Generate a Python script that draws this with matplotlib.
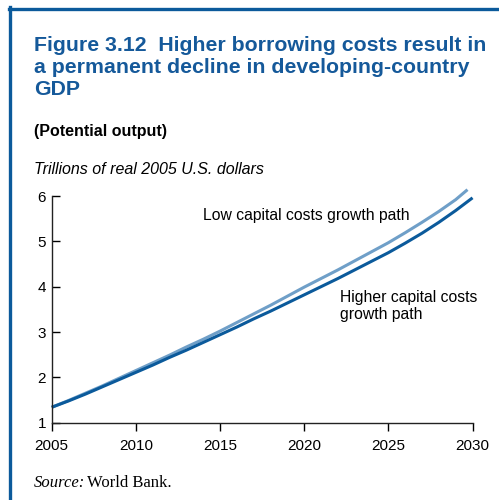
import matplotlib.pyplot as plt
from matplotlib.lines import Line2D

plt.rcParams['font.family'] = ['Liberation Sans', 'DejaVu Sans']

years_low = [2005, 2006, 2007, 2008, 2009, 2010, 2011, 2012, 2013, 2014, 2015,
             2016, 2017, 2018, 2019, 2020, 2021, 2022, 2023, 2024, 2025,
             2026, 2027, 2028, 2029, 2029.7]
low_cost = [1.34, 1.49, 1.65, 1.81, 1.98, 2.15, 2.32, 2.49, 2.67, 2.84, 3.02,
            3.21, 3.40, 3.59, 3.79, 3.99, 4.18, 4.37, 4.57, 4.77, 4.97,
            5.19, 5.42, 5.66, 5.92, 6.14]

years_high = list(range(2005, 2031))
high_cost = [1.34, 1.48, 1.63, 1.79, 1.95, 2.11, 2.27, 2.44, 2.60, 2.77, 2.94,
             3.11, 3.29, 3.46, 3.64, 3.82, 4.00, 4.18, 4.37, 4.56, 4.75,
             4.96, 5.18, 5.42, 5.68, 5.96]

xticks = [2005, 2010, 2015, 2020, 2025, 2030]
yticks = [1, 2, 3, 4, 5, 6]

blue = '#0b5a9b'
light = '#6f9fc8'

fig = plt.figure(figsize=(4.99, 5.0), dpi=100)
ax = fig.add_axes([0.1036, 0.1546, 0.8434, 0.4534])

ax.plot(years_low, low_cost, color=light, lw=2.2, solid_capstyle='butt', clip_on=False)
ax.plot(years_high, high_cost, color=blue, lw=2.2, solid_capstyle='butt', clip_on=False)

ax.set_xlim(2005, 2030)
ax.set_ylim(1, 6)
ax.set_xticks(xticks)
ax.set_yticks(yticks)
ax.spines['top'].set_visible(False)
ax.spines['right'].set_visible(False)
for s in ['left', 'bottom']:
    ax.spines[s].set_color('#222222')
    ax.spines[s].set_linewidth(1.0)
ax.tick_params(axis='y', direction='in', length=5.5, width=1, labelsize=11, pad=4)
ax.tick_params(axis='x', direction='out', length=5.5, width=1, labelsize=11, pad=6)

ax.text(2014.0, 5.56, 'Low capital costs growth path', fontsize=11.3, va='center')
ax.text(2022.1, 3.57, 'Higher capital costs\ngrowth path', fontsize=11.3,
        va='center', linespacing=1.2)

# header texts
fig.text(0.068, 0.928, 'Figure 3.12  Higher borrowing costs result in\n'
         'a permanent decline in developing-country\nGDP',
         fontsize=15.3, fontweight='bold', color='#15599a', va='top',
         linespacing=1.21)
fig.text(0.068, 0.737, '(Potential output)', fontsize=11.5, fontweight='bold', va='center')
fig.text(0.068, 0.660, 'Trillions of real 2005 U.S. dollars', fontsize=11.5,
         style='italic', va='center')
fig.text(0.068, 0.034, 'Source:', fontsize=12, style='italic',
         family='Liberation Serif', va='center')
fig.text(0.175, 0.034, 'World Bank.', fontsize=12, family='Liberation Serif', va='center')

# frame lines (top and left)
fig.add_artist(Line2D([0.018, 1.0], [0.983, 0.983], color=blue, lw=2.4,
                      transform=fig.transFigure))
fig.add_artist(Line2D([0.021, 0.021], [0.0, 0.986], color=blue, lw=2.4,
                      transform=fig.transFigure))

fig.savefig('out.png', dpi=100)
